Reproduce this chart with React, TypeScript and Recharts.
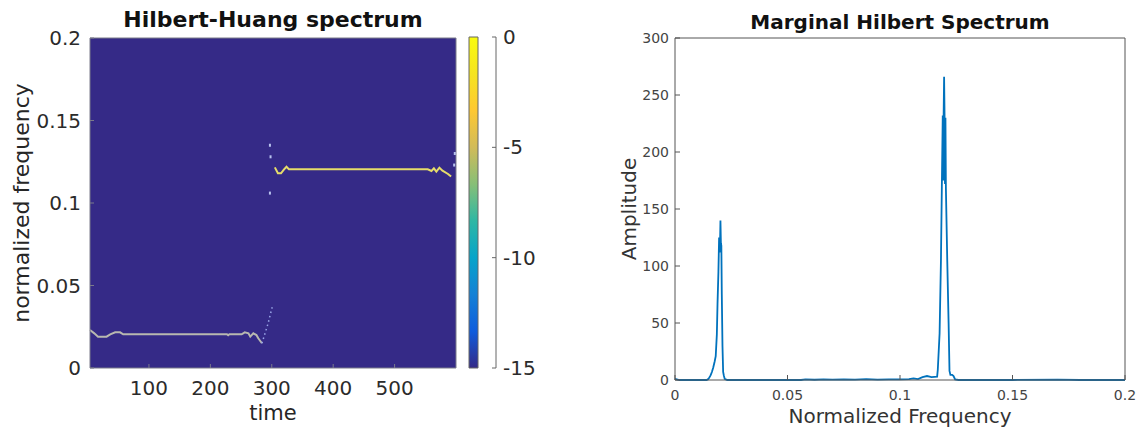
import {
  ComposedChart,
  LineChart,
  Line,
  Scatter,
  XAxis,
  YAxis,
  CartesianGrid,
  ReferenceArea,
} from "recharts";

const FONT = "'DejaVu Sans', sans-serif";

// Hilbert-Huang spectrum: instantaneous frequency ridges (time, normalized freq)
const LOW_TIME = [4, 11, 17, 31, 37, 45, 53, 58, 120, 200, 227, 229, 231, 251, 256, 262, 265, 270, 275, 278, 284];
const LOW_FREQ = [0.023, 0.021, 0.019, 0.019, 0.0204, 0.0216, 0.0216, 0.0204, 0.0204, 0.0204, 0.0204, 0.0198, 0.0204, 0.0204, 0.0216, 0.021, 0.019, 0.021, 0.02, 0.018, 0.015];

const JUMP_TIME = [284, 289, 294, 298, 302];
const JUMP_FREQ = [0.015, 0.021, 0.027, 0.033, 0.0386];

const HIGH_TIME = [305, 310, 315, 320, 324, 328, 450, 554, 560, 564, 568, 573, 578, 587, 592];
const HIGH_FREQ = [0.1216, 0.118, 0.118, 0.1204, 0.122, 0.1204, 0.1204, 0.1204, 0.1194, 0.121, 0.119, 0.1214, 0.1196, 0.1176, 0.116];

const STRAY_TIME = [297, 298, 297, 598, 597];
const STRAY_FREQ = [0.135, 0.128, 0.106, 0.13, 0.123];

const HHS_X_TICKS = [100, 200, 300, 400, 500];
const HHS_Y_TICKS = [0, 0.05, 0.1, 0.15, 0.2];
const CBAR_TICKS = [0, -5, -10, -15];

// parula, bottom -> top
const PARULA = ["#352a87", "#0f5cdd", "#1481d6", "#06a4ca", "#2eb7a4", "#87bf77", "#d1bb59", "#fec832", "#f5e41f", "#f9fb0e"];

// Marginal Hilbert spectrum
const SPEC_FREQ = [
  0, 0.002, 0.006, 0.01, 0.014, 0.0146, 0.0152, 0.0158, 0.0164, 0.017, 0.0176, 0.0181, 0.0186,
  0.0189, 0.0193, 0.0196, 0.0198, 0.02, 0.0202, 0.0204, 0.0206, 0.0208, 0.0211, 0.0214, 0.0217,
  0.0221, 0.0226, 0.0232, 0.03, 0.04, 0.05, 0.056, 0.058, 0.062, 0.066, 0.07, 0.075, 0.08, 0.085,
  0.09, 0.095, 0.1, 0.104, 0.106, 0.108, 0.11, 0.112, 0.114, 0.1165, 0.1168, 0.1176, 0.1182,
  0.1186, 0.119, 0.1192, 0.1194, 0.1196, 0.1198, 0.12, 0.1202, 0.1204, 0.121, 0.1216, 0.122,
  0.1224, 0.1232, 0.1238, 0.1245, 0.126, 0.15, 0.17, 0.18, 0.2,
];
const SPEC_AMP = [
  1, 0, 0, 0, 0, 0.5, 2, 4, 7, 11, 16, 21, 40,
  67, 95, 125, 112, 118, 140, 120, 118, 75, 30, 7, 4,
  1, 0.5, 0, 0, 0, 0, 0, 0.5, 0.2, 0.6, 0.3, 0.6, 0.4, 0.7,
  0.4, 0.6, 0.5, 0.8, 1.5, 0.8, 2.5, 3.5, 2.5, 3, 9, 41, 105,
  170, 232, 175, 234, 266, 232, 172, 230, 168, 105, 50, 8,
  4.5, 4.5, 3.5, 0.5, 0, 0, 0.3, 0, 0,
];
const MHS_X_TICKS = [0, 0.05, 0.1, 0.15, 0.2];
const MHS_Y_TICKS = [0, 50, 100, 150, 200, 250, 300];

const zip = (t: number[], f: number[]) => t.map((v, i) => ({ t: v, f: f[i] }));
const SPECTRUM = SPEC_FREQ.map((freq, i) => ({ freq, amp: SPEC_AMP[i] }));

function Label({ text, x, y, size, bold, rotate, color }: any) {
  return (
    <div
      style={{
        position: "absolute",
        left: x,
        top: y,
        transform: `translate(-50%, -50%)${rotate ? " rotate(-90deg)" : ""}`,
        fontSize: size,
        fontWeight: bold ? "bold" : "normal",
        color: color || "#262626",
        whiteSpace: "nowrap",
        lineHeight: 1,
      }}
    >
      {text}
    </div>
  );
}

function HilbertHuang() {
  const tick = { fontSize: 20, fill: "#2b2b2b" };
  const high = zip(HIGH_TIME, HIGH_FREQ);
  return (
    <ComposedChart width={470} height={432} margin={{ top: 37, right: 13, bottom: 8, left: 0 }}>
      <CartesianGrid horizontal={false} vertical={false} fill="#352a87" fillOpacity={1} stroke="none" />
      <XAxis type="number" dataKey="t" domain={[4, 600]} ticks={HHS_X_TICKS} height={56}
        tickSize={-4} tickMargin={17} tick={tick} stroke="#7a7a8a" />
      <XAxis xAxisId="top" orientation="top" type="number" dataKey="t" domain={[4, 600]} ticks={HHS_X_TICKS}
        height={1} tickSize={-4} tick={false} stroke="#7a7a8a" />
      <YAxis type="number" dataKey="f" domain={[0, 0.2]} ticks={HHS_Y_TICKS} width={90}
        tickSize={-4} tickMargin={13} tick={tick} stroke="#7a7a8a" />
      <YAxis yAxisId="right" orientation="right" type="number" dataKey="f" domain={[0, 0.2]} ticks={HHS_Y_TICKS}
        width={1} tickSize={-4} tick={false} stroke="#7a7a8a" />
      {/* invisible twin so the mirrored box axes get drawn */}
      <Line data={high} dataKey="f" xAxisId="top" yAxisId="right" stroke="transparent" dot={false}
        activeDot={false} isAnimationActive={false} />
      <Line data={zip(LOW_TIME, LOW_FREQ)} dataKey="f" type="linear" stroke="#b8b8b0" strokeWidth={2}
        dot={false} isAnimationActive={false} />
      <Line data={zip(JUMP_TIME, JUMP_FREQ)} dataKey="f" type="linear" stroke="#9aa6e8" strokeWidth={1.5}
        strokeDasharray="1.5 3" dot={false} isAnimationActive={false} />
      <Line data={high} dataKey="f" type="linear" stroke="#e6dc6a" strokeWidth={2}
        dot={false} isAnimationActive={false} />
      <Scatter data={zip(STRAY_TIME, STRAY_FREQ)} dataKey="f" isAnimationActive={false}
        shape={(p: any) => <rect x={p.cx - 1} y={p.cy - 1.5} width={2} height={3} fill="#b8c2ee" />} />
    </ComposedChart>
  );
}

function ColorBar() {
  return (
    <ComposedChart width={80} height={432} data={CBAR_TICKS.map((v) => ({ v }))}
      margin={{ top: 37, right: 0, bottom: 64, left: 9 }}>
      <defs>
        <linearGradient id="parula" x1="0" y1="1" x2="0" y2="0">
          {PARULA.map((c, i) => (
            <stop key={i} offset={i / (PARULA.length - 1)} stopColor={c} />
          ))}
        </linearGradient>
      </defs>
      <XAxis type="number" domain={[0, 1]} hide height={0} />
      <YAxis orientation="right" type="number" dataKey="v" domain={[-15, 0]} ticks={CBAR_TICKS} width={44}
        tickSize={-4} tickMargin={11} tick={{ fontSize: 20, fill: "#2b2b2b" }} stroke="#666" />
      <ReferenceArea x1={0} x2={1} y1={-15} y2={0} fill="url(#parula)" fillOpacity={1} stroke="#666" />
    </ComposedChart>
  );
}

function MarginalSpectrum() {
  const tick = { fontSize: 14, fill: "#444" };
  return (
    <LineChart width={538} height={432} data={SPECTRUM} margin={{ top: 37, right: 12, bottom: 12, left: 0 }}>
      <XAxis type="number" dataKey="freq" domain={[0, 0.2]} ticks={MHS_X_TICKS} height={40}
        tickSize={-5} tickMargin={15} tick={tick} stroke="#555" />
      <XAxis xAxisId="top" orientation="top" type="number" dataKey="freq" domain={[0, 0.2]} ticks={MHS_X_TICKS}
        height={1} tickSize={-5} tick={false} stroke="#555" />
      <YAxis type="number" domain={[0, 300]} ticks={MHS_Y_TICKS} width={75}
        tickSize={-5} tickMargin={11} tick={tick} stroke="#555" />
      <YAxis yAxisId="right" orientation="right" type="number" domain={[0, 300]} ticks={MHS_Y_TICKS}
        width={1} tickSize={-5} tick={false} stroke="#555" />
      {/* invisible twin so the mirrored box axes get drawn */}
      <Line dataKey="amp" xAxisId="top" yAxisId="right" stroke="transparent" dot={false} activeDot={false}
        isAnimationActive={false} />
      <Line dataKey="amp" type="linear" stroke="#0072bd" strokeWidth={1.8} dot={false} isAnimationActive={false} />
    </LineChart>
  );
}

export default function App() {
  return (
    <div style={{ position: "absolute", left: 0, top: 0, width: 1138, height: 432, background: "#fff", fontFamily: FONT, overflow: "hidden" }}>
      <div style={{ position: "absolute", left: 0, top: 0 }}>
        <HilbertHuang />
      </div>
      <div style={{ position: "absolute", left: 460, top: 0 }}>
        <ColorBar />
      </div>
      <div style={{ position: "absolute", left: 600, top: 0 }}>
        <MarginalSpectrum />
      </div>
      <Label text="Hilbert-Huang spectrum" x={273} y={20} size={22} bold color="#111" />
      <Label text="normalized frequency" x={22} y={203} size={22} rotate />
      <Label text="time" x={273} y={413} size={21} />
      <Label text="Marginal Hilbert Spectrum" x={900} y={22} size={20} bold color="#111" />
      <Label text="Amplitude" x={629} y={209} size={20} rotate color="#333" />
      <Label text="Normalized Frequency" x={900} y={416} size={20} color="#333" />
    </div>
  );
}
